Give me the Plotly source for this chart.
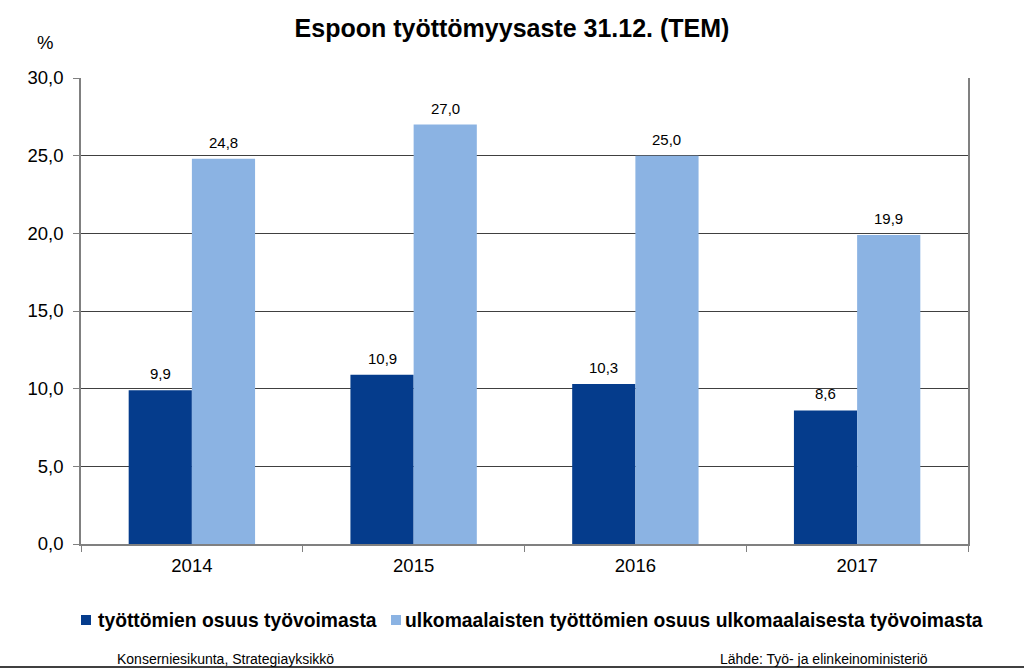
import plotly.graph_objects as go

years = ["2014", "2015", "2016", "2017"]
tyottomat = [9.9, 10.9, 10.3, 8.6]
ulkomaalaiset = [24.8, 27.0, 25.0, 19.9]
series_names = ["työttömien osuus työvoimasta",
                "ulkomaalaisten työttömien osuus ulkomaalaisesta työvoimasta"]
series_colors = ["#053C8C", "#8BB3E3"]
ytick_vals = [0, 5, 10, 15, 20, 25, 30]
ytick_text = ["0,0", "5,0", "10,0", "15,0", "20,0", "25,0", "30,0"]

def fmt(v):
    return f"{v:.1f}".replace(".", ",")

FONT = "Liberation Sans, Arial, sans-serif"
L, R, T, B = 81, 56, 78, 125
W, H = 1024, 669
PW, PH = W - L - R, H - T - B
BAR_PX = 63  # half-group offset in pixels for value labels

def px(xp):
    return (xp - L) / PW

def py(yp):
    return (H - B - yp) / PH

fig = go.Figure()
for vals, name, col in zip([tyottomat, ulkomaalaiset], series_names, series_colors):
    fig.add_trace(go.Bar(
        x=years, y=vals, name=name,
        marker=dict(color=col, line=dict(width=0)),
    ))

# value labels above bars, positioned via the axes' scales (category index)
for vals, shift in zip([tyottomat, ulkomaalaiset], [-BAR_PX / 2, BAR_PX / 2]):
    for i, v in enumerate(vals):
        fig.add_annotation(x=i, y=v, xref="x", yref="y", text=fmt(v), showarrow=False,
                           xshift=shift, yanchor="bottom", yshift=6,
                           font=dict(size=15, family=FONT, color="black"))

fig.update_layout(
    width=W, height=H,
    margin=dict(l=L, r=R, t=T, b=B, autoexpand=False),
    paper_bgcolor="white", plot_bgcolor="white",
    barmode="group", bargap=0.43, bargroupgap=0,
    font=dict(family=FONT, color="black"),
    title=dict(text="<b>Espoon työttömyysaste 31.12. (TEM)</b>", x=0.5, xanchor="center",
               y=1 - 28 / H, yanchor="middle", font=dict(size=25, family=FONT, color="black")),
    showlegend=False,
)
fig.update_xaxes(
    type="category", categoryorder="array", categoryarray=years,
    range=[-0.5, len(years) - 0.5],
    tickson="boundaries", ticks="outside", ticklen=6,
    tickcolor="#808080", showline=True, linecolor="#808080", linewidth=1.5,
    mirror=False, showgrid=False, ticklabelstandoff=4,
    tickfont=dict(size=18.5, family=FONT, color="black"),
)
fig.update_yaxes(
    range=[0, 30], tickvals=ytick_vals, ticktext=ytick_text,
    ticks="outside", ticklen=6, tickcolor="#808080",
    showline=True, linecolor="#808080", linewidth=1.5, mirror=True,
    showgrid=True, gridcolor="#404040", gridwidth=1, zeroline=False,
    ticklabelstandoff=6,
    tickfont=dict(size=18.5, family=FONT, color="black"),
)

# manual legend (single row like the reference)
legend_x = [(81, 96), (391, 403)]
for (sx, tx), name, col in zip(legend_x, series_names, series_colors):
    fig.add_shape(type="rect", xref="paper", yref="paper",
                  x0=px(sx), x1=px(sx + 10), y0=py(625), y1=py(615),
                  fillcolor=col, line=dict(width=0))
    fig.add_annotation(text=f"<b>{name}</b>", xref="paper", yref="paper",
                       x=px(tx), xanchor="left", y=py(620), yanchor="middle",
                       showarrow=False, font=dict(size=19.3, family=FONT, color="black"))

fig.add_annotation(text="%", xref="paper", yref="paper", x=px(45), xanchor="center",
                   y=py(43), yanchor="middle",
                   showarrow=False, font=dict(size=18.5, family=FONT, color="black"))
fig.add_annotation(text="Konserniesikunta, Strategiayksikkö", xref="paper", yref="paper",
                   x=px(115), xanchor="left", y=py(659), yanchor="middle",
                   showarrow=False, font=dict(size=14, family=FONT, color="black"))
fig.add_annotation(text="Lähde: Työ- ja elinkeinoministeriö", xref="paper", yref="paper",
                   x=px(718), xanchor="left", y=py(659), yanchor="middle",
                   showarrow=False, font=dict(size=14, family=FONT, color="black"))
fig.add_shape(type="line", xref="paper", yref="paper", x0=px(0), x1=px(W),
              y0=py(667), y1=py(667), line=dict(color="black", width=1.5))

fig.write_html("out.html")
